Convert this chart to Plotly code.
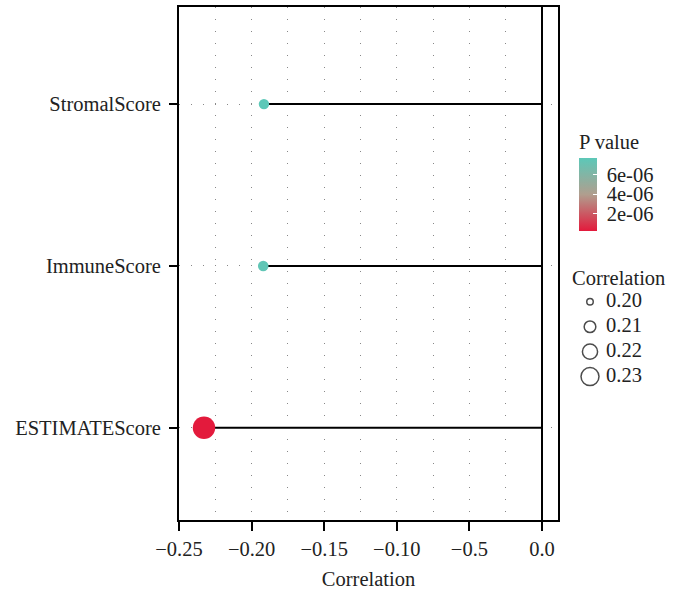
import math
import plotly.graph_objects as go

# ---- data ----
categories = ["ESTIMATEScore", "ImmuneScore", "StromalScore"]
correlation = [-0.2328, -0.1920, -0.1915]
p_values = [3.2e-07, 7.5e-06, 7.7e-06]

x_tick_vals = [-0.25, -0.20, -0.15, -0.10, -0.05, 0.0]
x_tick_text = ["\u22120.25", "\u22120.20", "\u22120.15", "\u22120.10", "\u22120.5", "0.0"]

p_tick_vals = [2e-06, 4e-06, 6e-06]
p_tick_text = ["2e-06", "4e-06", "6e-06"]

size_legend_vals = [0.20, 0.21, 0.22, 0.23]
size_legend_text = ["0.20", "0.21", "0.22", "0.23"]

FONT = "Liberation Serif"
FS = 20.5
TXT = "#222"

W, H = 678, 599
ML, MR, MT, MB = 179, 10, 5, 79
PW = W - ML - MR          # paper width in px
PH = H - MT - MB          # paper height in px
PLOT_RIGHT = 558          # right edge of main panel (px)

def px_x(p):
    return (p - ML) / PW

def px_y(p):
    return (H - MB - p) / PH

def data_size(r):
    a = abs(r)
    return 10 + (a - 0.19) / (0.233 - 0.19) * 12.5

def legend_size(v):
    return math.sqrt(9392 * (v - 0.1955))

fig = go.Figure()

# lollipop segments
seg_x, seg_y = [], []
for c, r in zip(categories, correlation):
    seg_x += [r, 0, None]
    seg_y += [c, c, None]
fig.add_trace(go.Scatter(x=seg_x, y=seg_y, mode="lines",
                         line=dict(color="black", width=2),
                         showlegend=False, hoverinfo="skip"))

# points
fig.add_trace(go.Scatter(
    x=correlation, y=categories, mode="markers", showlegend=False,
    marker=dict(
        size=[data_size(r) for r in correlation],
        color=p_values,
        colorscale=[[0, "#E31A3C"], [0.5, "#B09E8E"], [1, "#5CC8B8"]],
        line=dict(width=0),
        opacity=1,
        colorbar=dict(
            title=dict(text="P value", side="top", font=dict(family=FONT, size=FS, color=TXT)),
            thickness=18, len=100, lenmode="pixels", ypad=0, xpad=0,
            x=px_x(579), xanchor="left", y=px_y(129), yanchor="top",
            outlinewidth=0,
            tickvals=p_tick_vals, ticktext=["\u00a0" + t for t in p_tick_text],
            ticks="inside", tickcolor="white", ticklen=4, tickwidth=1,
            tickfont=dict(family=FONT, size=FS, color=TXT),
        ),
    ),
))

# size legend (drawn on its own hidden axes)
fig.add_trace(go.Scatter(
    x=[19] * len(size_legend_vals), y=size_legend_vals, mode="markers",
    xaxis="x2", yaxis="y2", showlegend=False, hoverinfo="skip",
    marker=dict(symbol="circle-open", color="black",
                size=[legend_size(v) for v in size_legend_vals], line=dict(width=1.5)),
))
fig.add_trace(go.Scatter(
    x=[35] * len(size_legend_vals), y=size_legend_vals, mode="text",
    text=size_legend_text, textposition="middle right",
    textfont=dict(family=FONT, size=FS, color=TXT),
    xaxis="x2", yaxis="y2", showlegend=False, hoverinfo="skip",
))

fig.add_annotation(
    text="Correlation", xref="paper", yref="paper",
    x=px_x(570), y=px_y(277), xanchor="left", yanchor="middle",
    showarrow=False, font=dict(family=FONT, size=FS, color=TXT),
)

fig.update_layout(
    width=W, height=H,
    margin=dict(l=ML, r=MR, t=MT, b=MB),
    plot_bgcolor="white", paper_bgcolor="white",
    font=dict(family=FONT, size=FS, color=TXT),
    showlegend=False,
    xaxis=dict(
        domain=[0, px_x(PLOT_RIGHT)],
        range=[-0.25, 0.011], tickvals=x_tick_vals, ticktext=x_tick_text,
        ticks="outside", ticklen=9, tickwidth=2, tickcolor="black",
        showline=True, linecolor="black", linewidth=2, mirror=True,
        showgrid=True, gridcolor="#888", gridwidth=1.2, griddash="1px,11px",
        minor=dict(dtick=0.025, tick0=0, showgrid=True, gridcolor="#888", gridwidth=1.2, griddash="1px,11px"),
        zeroline=True, zerolinecolor="black", zerolinewidth=2,
        title=dict(text="Correlation", font=dict(family=FONT, size=FS), standoff=13),
        tickfont=dict(family=FONT, size=FS, color=TXT),
    ),
    yaxis=dict(
        type="category", categoryorder="array", categoryarray=categories,
        range=[-0.57, 2.6],
        ticks="outside", ticklen=8, tickwidth=1.5, tickcolor="black",
        showline=True, linecolor="black", linewidth=2, mirror=True,
        showgrid=True, gridcolor="#888", gridwidth=1.2, griddash="1px,11px",
        tickfont=dict(family=FONT, size=FS, color=TXT),
        ticklabelstandoff=4,
        zeroline=False,
    ),
    xaxis2=dict(domain=[px_x(571), 1.0], range=[0, 97], visible=False, fixedrange=True, anchor="y2"),
    yaxis2=dict(domain=[px_y(388.5), px_y(288.5)], range=[0.235, 0.195], visible=False,
                fixedrange=True, anchor="x2"),
)

fig.write_html("out.html", config={"displayModeBar": False},
               post_script="document.body.style.margin='0';")
